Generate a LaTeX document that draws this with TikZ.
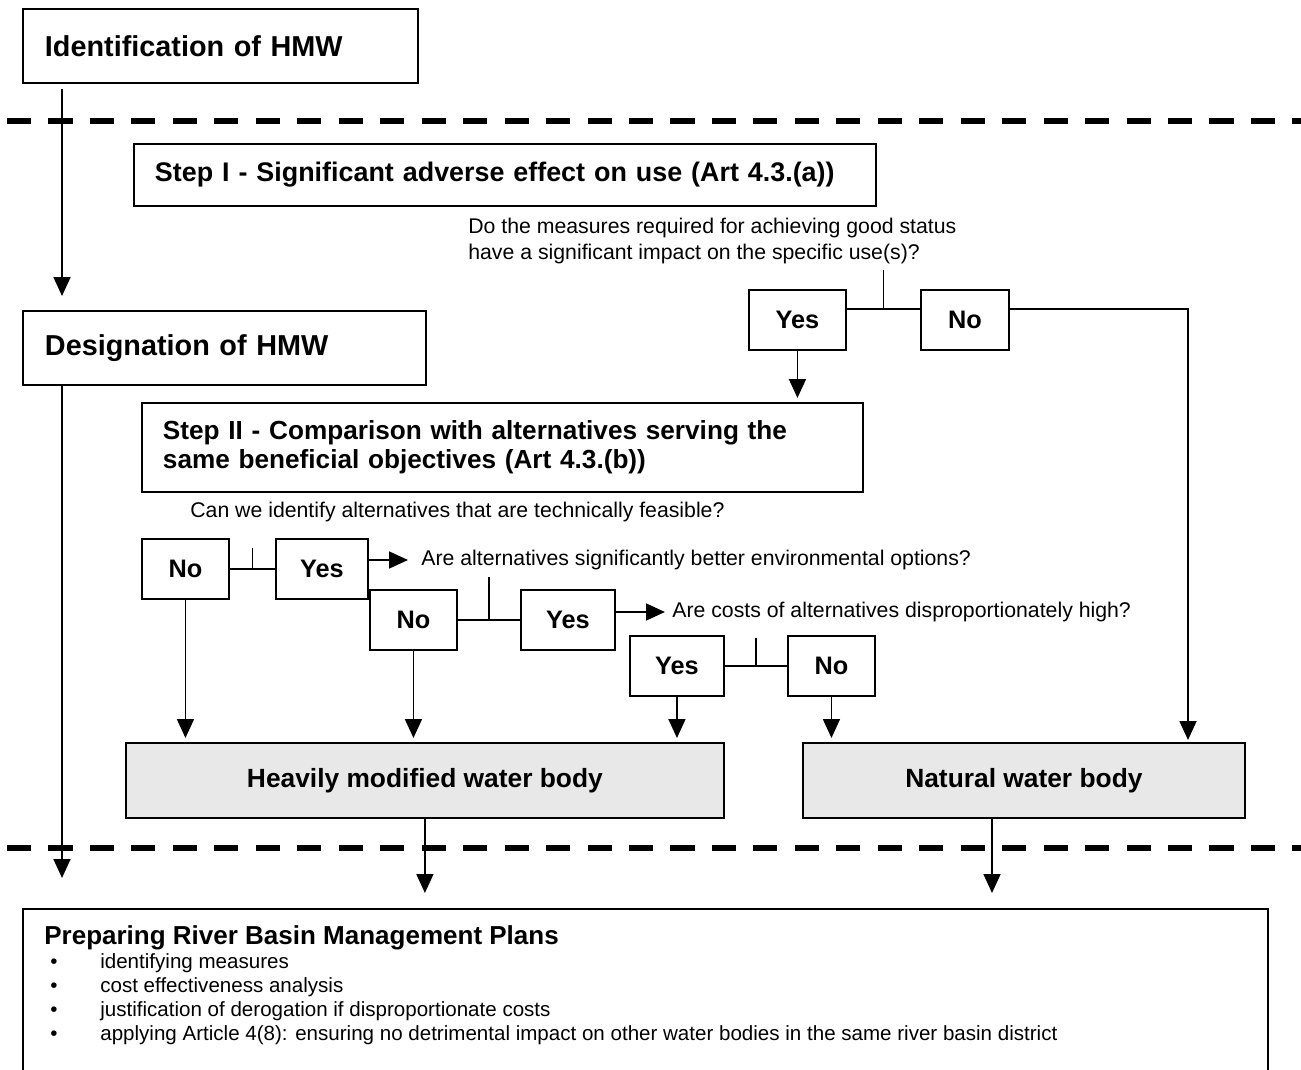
\documentclass[tikz,border=0pt]{standalone}
\usepackage{fontspec}
\setmainfont{Liberation Sans}
\usetikzlibrary{positioning, arrows.meta, calc}

\definecolor{boxgray}{HTML}{E8E8E8}

\tikzset{
  box/.style={draw, line width=1.1pt, inner sep=0pt, anchor=north west},
  titlebox/.style={box, align=left, inner xsep=0.44cm, minimum height=1.48cm,
    font=\bfseries\fontsize{16.4}{19.7}\selectfont},
  stepbox/.style={box, align=left, inner xsep=0.42cm,
    font=\bfseries\fontsize{15.3}{16.5}\selectfont},
  answer/.style={box, minimum height=1.2cm, font=\bfseries\fontsize{14.4}{17}\selectfont},
  waterbody/.style={box, fill=boxgray, minimum height=1.5cm,
    font=\bfseries\fontsize{15}{18}\selectfont},
  question/.style={anchor=west, align=left, inner sep=0pt,
    font=\fontsize{12.1}{14.8}\selectfont},
  conn/.style={line width=1pt},
  arr/.style={conn, -{Triangle[width=0.34cm,length=0.38cm]}},
  phase/.style={line width=3.4pt, dash pattern=on 13.7pt off 9.9pt}
}

\begin{document}
\begin{tikzpicture}[x=0.02cm, y=-0.02cm]
  \useasboundingbox (0,0) rectangle (1301,1070);

  % Phases
  \coordinate (sepA) at (7,121);
  \coordinate (sepB) at (7,848);
  \draw[phase] (sepA) -- (sepA -| 1301,0);
  \draw[phase] (sepB) -- (sepB -| 1301,0);

  % Left column
  \node[titlebox, text width=7.02cm] (ident) at (22,8) {Identification of HMW};
  \node[titlebox, text width=7.18cm] (desig) at (22,310) {Designation of HMW};

  % Step I
  \node[stepbox, text width=14.0cm, minimum height=1.24cm] (step1) at (133,143)
    {Step I - Significant adverse effect on use (Art 4.3.(a))};
  \node[question] (q1) at (468,241)
    {Do the measures required for achieving good status\\have a significant impact on the specific use(s)?};
  \node[answer, minimum width=1.94cm] (yes1) at (748,289) {Yes};
  \node[answer, minimum width=1.76cm] (no1) at (920,289) {No};

  % Step II
  \node[stepbox, text width=13.58cm, minimum height=1.78cm,
    font=\bfseries\fontsize{14.9}{16.5}\selectfont] (step2) at (141,402)
    {Step II - Comparison with alternatives serving the\\same beneficial objectives (Art 4.3.(b))};
  \node[question] (q2) at (190,512) {Can we identify alternatives that are technically feasible?};
  \node[answer, minimum width=1.74cm] (noA) at (141,538) {No};
  \node[answer, minimum width=1.84cm] (yesA) at (275,538) {Yes};
  \node[question] (q3) at (421,560) {Are alternatives significantly better environmental options?};
  \node[answer, minimum width=1.74cm] (noB) at (369,589) {No};
  \node[answer, minimum width=1.88cm] (yesB) at (520,589) {Yes};
  \node[question] (q4) at (672,612) {Are costs of alternatives disproportionately high?};
  \node[answer, minimum width=1.88cm] (yesC) at (629,635) {Yes};
  \node[answer, minimum width=1.74cm] (noC) at (787,635) {No};

  % Results
  \node[waterbody, minimum width=11.96cm] (hmwb) at (125,742) {Heavily modified water body};
  \node[waterbody, minimum width=8.84cm] (nwb) at (802,742) {Natural water body};

  % River basin plans
  \node[box, minimum width=24.9cm, minimum height=3.8cm] (plans) at (22,908) {};
  \node[anchor=north west, align=left, inner sep=0pt, font=\fontsize{11.7}{13.7}\selectfont] (planstext) at (44,925)
    {{\bfseries\fontsize{14.8}{17}\selectfont Preparing River Basin Management Plans}\\
     \makebox[1.12cm][l]{\hspace{0.12cm}\textbullet}identifying measures\\
     \makebox[1.12cm][l]{\hspace{0.12cm}\textbullet}cost effectiveness analysis\\
     \makebox[1.12cm][l]{\hspace{0.12cm}\textbullet}justification of derogation if disproportionate costs\\
     \makebox[1.12cm][l]{\hspace{0.12cm}\textbullet}applying Article 4(8): ensuring no detrimental impact on other water bodies in the same river basin district};

  % Left column arrows
  \draw[arr, shorten <=0.1cm, shorten >=0.28cm] ($(ident.south west)+(40,0)$) -- ($(desig.north west)+(40,0)$);
  \draw[arr, shorten >=0.6cm] ($(desig.south west)+(40,0)$) -- ($(plans.north west)+(40,0)$);

  % Step I decision
  \draw[conn] ($(yes1.north east)+(0,20)$) -- ($(no1.north west)+(0,20)$);
  \draw[conn] ($(yes1.north east)!0.5!(no1.north west)+(0,20)$) -- ++(0,-39);
  \draw[arr, shorten >=0.04cm] ($(no1.north east)+(0,20)$) -| ($(nwb.north west)+(386,0)$);
  \draw[arr, shorten >=0.08cm] (yes1.south) -- (yes1.south |- step2.north);

  % Step II decisions
  \draw[conn] (noA.east) -- (yesA.west);
  \draw[conn] ($(noA.east)!0.5!(yesA.west)$) -- ++(0,-21);
  \draw[arr, shorten >=0.26cm] (yesA.east |- q3.west) -- (q3.west);
  \draw[conn] (noB.east) -- (yesB.west);
  \draw[conn] ($(noB.east)!0.5!(yesB.west)$) -- ++(0,-43);
  \draw[arr, shorten >=0.14cm] (yesB.east |- q4.west) -- (q4.west);
  \draw[conn] (yesC.east) -- (noC.west);
  \draw[conn] ($(yesC.east)!0.5!(noC.west)$) -- ++(0,-28);

  \draw[arr, shorten >=0.08cm] (noA.south) -- (noA.south |- hmwb.north);
  \draw[arr, shorten >=0.08cm] (noB.south) -- (noB.south |- hmwb.north);
  \draw[arr, shorten >=0.08cm] (yesC.south) -- (yesC.south |- hmwb.north);
  \draw[arr, shorten >=0.08cm] (noC.south) -- (noC.south |- nwb.north);

  % Into the plans
  \draw[arr, shorten >=0.3cm] (hmwb.south) -- (hmwb.south |- plans.north);
  \draw[arr, shorten >=0.3cm] ($(nwb.south west)+(190,0)$) -- ($(plans.north west)+(970,0)$);
\end{tikzpicture}
\end{document}
